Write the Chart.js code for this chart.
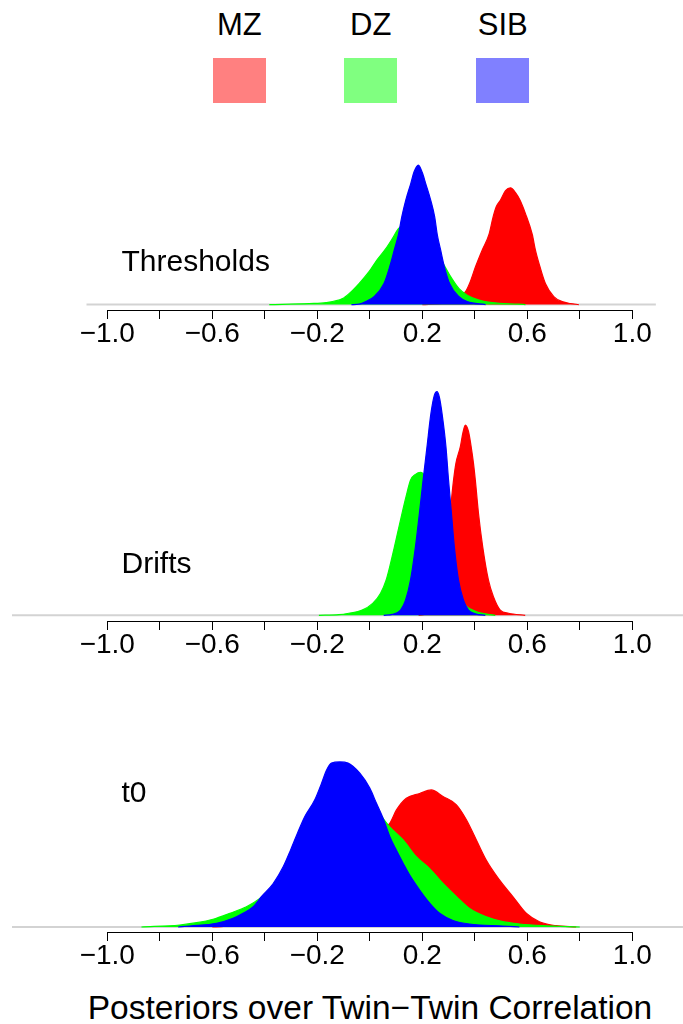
<!DOCTYPE html>
<html>
<head>
<meta charset="utf-8">
<script src="https://cdn.jsdelivr.net/npm/chart.js@4.4.1/dist/chart.umd.min.js"></script>
<style>
  body { margin:0; background:#fff; width:683px; height:1024px; overflow:hidden; position:relative;
         font-family:"Liberation Sans", Arial, sans-serif; }
  .lbl { position:absolute; line-height:1; white-space:nowrap; color:#000; }
  .box { position:absolute; }
  canvas { position:absolute; left:0; }
</style>
</head>
<body>
<script>
// groups + panel names
const groups = ['MZ', 'DZ', 'SIB'];
const panelNames = ['Thresholds', 'Drifts', 't0'];
const xTitle = 'Posteriors over Twin\u2212Twin Correlation';

// axis ticks (every 0.2, labels every 0.4)
const tickVals = [-1.0, -0.8, -0.6, -0.4, -0.2, 0.0, 0.2, 0.4, 0.6, 0.8, 1.0];
const tickLabelled = [-1.0, -0.6, -0.2, 0.2, 0.6, 1.0];

// posterior densities
// Thresholds
const thrMZx  = [0.20, 0.276, 0.314, 0.34, 0.368, 0.38, 0.403, 0.428, 0.454, 0.47, 0.482, 0.498, 0.517, 0.536, 0.555, 0.572, 0.593, 0.619, 0.631, 0.648, 0.669, 0.701, 0.733, 0.764, 0.796];
const thrMZy  = [0, 0.05, 0.14, 0.28, 0.67, 0.98, 1.77, 2.53, 3.26, 4.09, 4.56, 4.86, 5.3, 5.43, 5.21, 4.86, 4.23, 3.26, 2.53, 1.77, 0.98, 0.37, 0.14, 0.05, 0];
const thrDZx  = [-0.383, -0.231, -0.167, -0.104, -0.079, -0.041, -0.003, 0.023, 0.061, 0.086, 0.109, 0.137, 0.169, 0.2, 0.232, 0.264, 0.283, 0.308, 0.34, 0.371, 0.416, 0.466, 0.568, 0.593];
const thrDZy  = [0, 0.05, 0.09, 0.28, 0.51, 0.98, 1.53, 2.0, 2.6, 3.07, 3.53, 3.77, 3.81, 3.53, 2.98, 2.23, 1.84, 1.3, 0.74, 0.44, 0.21, 0.09, 0.02, 0];
const thrSIBx = [-0.07, -0.041, -0.015, 0.016, 0.054, 0.076, 0.093, 0.109, 0.122, 0.137, 0.156, 0.169, 0.185, 0.2, 0.213, 0.232, 0.247, 0.257, 0.27, 0.284, 0.304, 0.34, 0.371, 0.441];
const thrSIBy = [0, 0.02, 0.14, 0.37, 0.98, 1.77, 2.53, 3.26, 4.09, 4.86, 5.63, 6.19, 6.49, 6.14, 5.63, 4.86, 4.09, 3.26, 2.53, 1.77, 0.98, 0.37, 0.14, 0];
// Drifts
const drMZx  = [0.186, 0.224, 0.25, 0.269, 0.281, 0.294, 0.307, 0.319, 0.328, 0.345, 0.355, 0.364, 0.376, 0.386, 0.395, 0.402, 0.414, 0.43, 0.452, 0.471, 0.497, 0.529, 0.592];
const drMZy  = [0, 0.07, 0.24, 0.69, 1.38, 2.41, 3.62, 4.66, 5.24, 5.82, 6.31, 6.56, 6.34, 5.82, 5.24, 4.66, 3.52, 2.37, 1.21, 0.64, 0.18, 0.07, 0];
const drDZx  = [-0.194, -0.118, -0.08, -0.029, 0.011, 0.041, 0.062, 0.079, 0.094, 0.108, 0.123, 0.138, 0.155, 0.174, 0.193, 0.212, 0.237, 0.262, 0.288, 0.313, 0.338, 0.364, 0.402, 0.44, 0.478];
const drDZy  = [0, 0.02, 0.07, 0.18, 0.41, 0.76, 1.21, 1.79, 2.37, 2.93, 3.52, 4.09, 4.66, 4.86, 4.93, 4.76, 4.07, 3.1, 2.14, 1.31, 0.69, 0.34, 0.14, 0.05, 0];
const drSIBx = [0.053, 0.085, 0.117, 0.136, 0.155, 0.174, 0.189, 0.203, 0.218, 0.233, 0.246, 0.256, 0.265, 0.275, 0.29, 0.3, 0.311, 0.322, 0.338, 0.357, 0.376, 0.402, 0.44];
const drSIBy = [0, 0.03, 0.18, 0.52, 1.21, 2.37, 3.52, 4.66, 5.82, 6.97, 7.59, 7.71, 7.52, 6.97, 5.82, 4.66, 3.52, 2.37, 1.21, 0.52, 0.18, 0.05, 0];
// t0
const t0MZx  = [-0.6, -0.5, -0.4, -0.3, -0.2, -0.1, 0, 0.076, 0.101, 0.139, 0.19, 0.234, 0.279, 0.33, 0.368, 0.406, 0.444, 0.494, 0.545, 0.596, 0.646, 0.71, 0.786];
const t0MZy  = [0, 0.025, 0.084, 0.23, 0.54, 1.01, 1.48, 1.74, 1.96, 2.16, 2.24, 2.3, 2.19, 2.05, 1.8, 1.46, 1.12, 0.79, 0.51, 0.23, 0.089, 0.022, 0];
const t0DZx  = [-0.87, -0.724, -0.66, -0.597, -0.533, -0.47, -0.419, -0.35, -0.3, -0.2, -0.1, -0.05, 0, 0.051, 0.076, 0.127, 0.177, 0.228, 0.279, 0.33, 0.38, 0.444, 0.507, 0.57, 0.659, 0.8];
const t0DZy  = [0, 0.034, 0.072, 0.13, 0.23, 0.34, 0.48, 0.76, 1.04, 1.68, 2.15, 2.23, 2.15, 1.82, 1.68, 1.46, 1.18, 0.98, 0.73, 0.51, 0.31, 0.17, 0.089, 0.05, 0.022, 0];
const t0SIBx = [-0.73, -0.686, -0.584, -0.521, -0.483, -0.444, -0.413, -0.368, -0.33, -0.302, -0.276, -0.248, -0.21, -0.184, -0.165, -0.146, -0.114, -0.083, -0.038, 0, 0.025, 0.051, 0.076, 0.101, 0.127, 0.152, 0.19, 0.228, 0.266, 0.317, 0.38, 0.507, 0.57];
const t0SIBy = [0, 0.017, 0.062, 0.146, 0.23, 0.34, 0.51, 0.73, 1.01, 1.29, 1.57, 1.85, 2.13, 2.41, 2.63, 2.75, 2.77, 2.75, 2.58, 2.33, 2.08, 1.82, 1.52, 1.29, 1.07, 0.87, 0.62, 0.4, 0.23, 0.11, 0.05, 0.017, 0];

// styles
const fillCols = ['#ff0000', '#00ff00', '#0000ff'];
const legendCols = ['#ff8080', '#80ff80', '#8080ff'];
const FONT = '"Liberation Sans", Arial, sans-serif';

// layout (pixels)
const ZERO_X = 369.8, PX_PER_X = 262.5, AXIS_H = 45;
const panels = [
  { name: panelNames[0], series: [[thrMZx, thrMZy], [thrDZx, thrDZy], [thrSIBx, thrSIBy]],
    xMin: -1.08, xMax: 1.09, top: 150, base: 304.6, axis: 310, k: 21.5, titleY: 271.7 },
  { name: panelNames[1], series: [[drMZx, drMZy], [drDZx, drDZy], [drSIBx, drSIBy]],
    xMin: -1.363, xMax: 1.193, top: 380, base: 615.3, axis: 621, k: 29, titleY: 573.3 },
  { name: panelNames[2], series: [[t0MZx, t0MZy], [t0DZx, t0DZy], [t0SIBx, t0SIBy]],
    xMin: -1.363, xMax: 1.193, top: 745, base: 927, axis: 932, k: 59.6, titleY: 802.7 }
];

function addText(str, x, baseline, size, center) {
  const d = document.createElement('div');
  d.className = 'lbl';
  d.textContent = str;
  d.style.fontSize = size + 'px';
  d.style.top = (baseline - 0.8465 * size) + 'px';
  d.style.left = x + 'px';
  if (center) d.style.transform = 'translateX(-50%)';
  document.body.appendChild(d);
}

function fmtTick(v) {
  const r = Math.round(v * 10) / 10;
  if (!tickLabelled.some(t => Math.abs(t - r) < 1e-9)) return '';
  return (r < 0 ? '\u2212' : '') + Math.abs(r).toFixed(1);
}

// axis line only from -1 to 1 like base R axis()
const axisLine = {
  id: 'axisLine',
  afterDraw(chart) {
    const xs = chart.scales.x, ctx = chart.ctx;
    const y = Math.round(chart.chartArea.bottom) + 0.5;
    ctx.save();
    ctx.strokeStyle = '#000';
    ctx.lineWidth = 1;
    ctx.beginPath();
    ctx.moveTo(xs.getPixelForValue(-1), y);
    ctx.lineTo(xs.getPixelForValue(1), y);
    ctx.stroke();
    ctx.restore();
  }
};

// legend
const legendX = [239.3, 370.7, 502.7];
groups.forEach((g, i) => {
  addText(g, legendX[i], 35, 31, true);
  const b = document.createElement('div');
  b.className = 'box';
  b.style.left = (legendX[i] - 26.6) + 'px';
  b.style.top = '57.7px';
  b.style.width = '53.3px';
  b.style.height = '45px';
  b.style.background = legendCols[i];
  document.body.appendChild(b);
});

panels.forEach(p => {
  const cv = document.createElement('canvas');
  const h = Math.round(p.axis - p.top + AXIS_H);
  cv.width = 683;
  cv.height = h;
  cv.style.top = p.top + 'px';
  document.body.appendChild(cv);

  // gray baseline first, then MZ, DZ, SIB on top
  const datasets = [{
    label: 'base',
    data: [{ x: p.xMin, y: 0 }, { x: p.xMax, y: 0 }],
    borderColor: '#d3d3d3',
    borderWidth: 2,
    pointRadius: 0,
    fill: false,
    order: 9
  }];
  p.series.forEach((s, i) => datasets.push({
    label: groups[i],
    data: s[0].map((x, j) => ({ x: x, y: s[1][j] })),
    backgroundColor: fillCols[i],
    borderColor: fillCols[i],
    borderWidth: 1.2,
    pointRadius: 0,
    fill: 'origin',
    cubicInterpolationMode: 'monotone',
    order: 3 - i
  }));

  new Chart(cv, {
    type: 'line',
    data: { datasets },
    options: {
      responsive: false,
      animation: false,
      events: [],
      layout: { padding: { left: ZERO_X + p.xMin * PX_PER_X, right: 683 - (ZERO_X + p.xMax * PX_PER_X), top: 0, bottom: 0 } },
      plugins: { legend: { display: false }, tooltip: { enabled: false } },
      scales: {
        x: {
          type: 'linear',
          min: p.xMin, max: p.xMax,
          afterBuildTicks: s => { s.ticks = tickVals.map(v => ({ value: v })); },
          afterFit: s => { s.height = AXIS_H; },
          border: { display: false },
          grid: { drawOnChartArea: false, drawTicks: true, tickLength: 9, tickColor: '#000', lineWidth: 1 },
          ticks: {
            autoSkip: false, maxRotation: 0, minRotation: 0, padding: 1,
            color: '#000', font: { family: FONT, size: 28, lineHeight: 1 },
            callback: v => fmtTick(v)
          }
        },
        y: {
          display: false,
          min: -(p.axis - p.base) / p.k,
          max: (p.base - p.top) / p.k
        }
      }
    },
    plugins: [axisLine]
  });

  addText(p.name, 121.5, p.titleY, 30, false);
});

addText(xTitle, 370, 1019.5, 33.5, true);
</script>
</body>
</html>
